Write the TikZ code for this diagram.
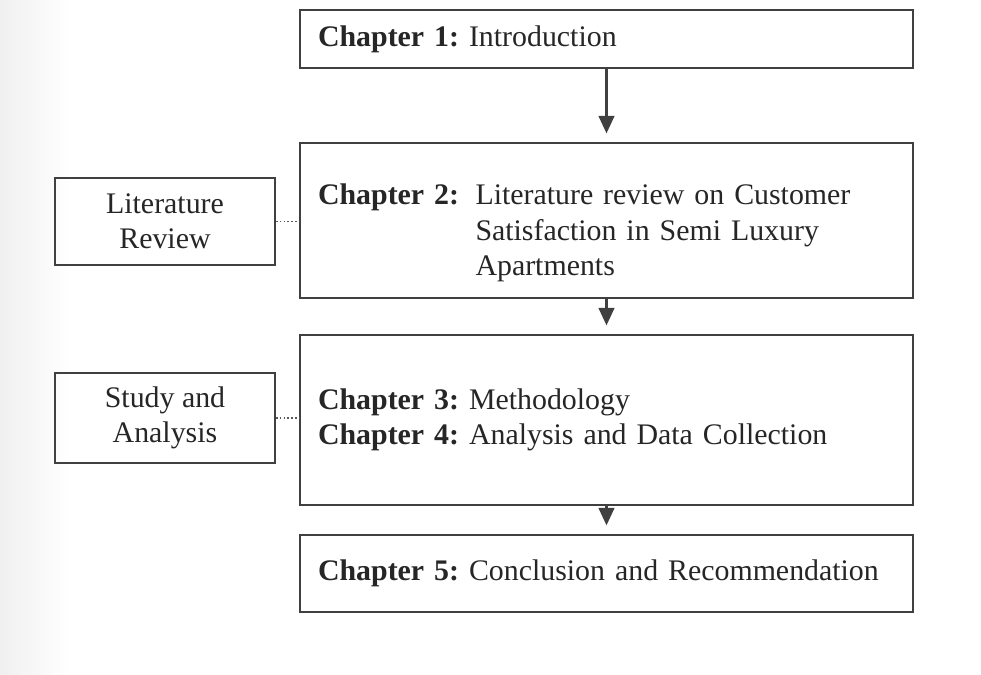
\documentclass[tikz,border=0pt]{standalone}
\usepackage{fontspec}
\setmainfont{Liberation Serif}
\usetikzlibrary{arrows.meta}

\tikzset{
  flow/.style={-{Triangle[width=9pt,length=10pt]},line width=1.2pt,draw=black!75,shorten >=5pt},
  link/.style={line width=1pt,draw=black!65,dash pattern=on 1pt off 1.2pt}
}

\begin{document}
\frenchspacing
\begin{tikzpicture}[x=0.02cm,y=-0.02cm,font=\fontsize{17}{20}\selectfont,text=black!85]

      \useasboundingbox (0,0) rectangle (981,674);
      \shade[left color=black!6,right color=white,shading angle=90] (0,0) rectangle (70,674);
      \fill[white] (69,0) rectangle (981,674);

      % chapters
      \begin{scope}[every node/.style={draw=black!75,line width=1pt,inner xsep=0.36cm,
          text width=11.54cm,align=left}]
        \node (1) at (606.5,39)    [minimum height=1.16cm] {\textbf{Chapter 1:} Introduction};
        \node (2) at (606.5,220.5) [minimum height=3.1cm]
          {\raisebox{0pt}[\dimexpr\height+0.5cm\relax]{\begin{tabular}{@{}l@{\hspace{0.55em}}l@{}}
             \textbf{Chapter 2:} & Literature review on Customer\\
                                 & Satisfaction in Semi Luxury\\
                                 & Apartments
           \end{tabular}}};
        \node (3) at (606.5,420)   [minimum height=3.4cm]
          {\textbf{Chapter 3:} Methodology\\ \textbf{Chapter 4:} Analysis and Data Collection};
        \node (4) at (606.5,573.5) [minimum height=1.54cm] {\textbf{Chapter 5:} Conclusion and Recommendation};
      \end{scope}

      % parts
      \begin{scope}[every node/.style={draw=black!75,line width=1pt,minimum width=4.4cm,align=center}]
        \node (5) at (165,221.5) [minimum height=1.74cm] {Literature\\Review};
        \node (6) at (165,418)   [minimum height=1.8cm]  {Study and\\Analysis};
      \end{scope}

      \draw[flow] (1) -- (2);
      \draw[flow] (2) -- (3);
      \draw[flow] (3) -- (4);

      \draw[link] (5.east) -- (5.east -| 2.west);
      \draw[link] (6.east) -- (6.east -| 3.west);

    \end{tikzpicture}
\end{document}
